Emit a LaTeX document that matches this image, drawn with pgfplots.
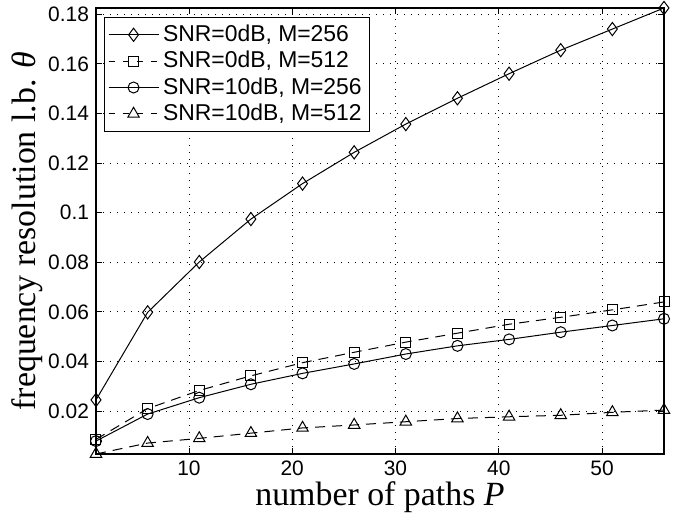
\documentclass[border=0pt]{standalone}
\usepackage{fontspec}
\setmainfont{Liberation Sans}
\newfontfamily\tnr{Liberation Serif}
\usepackage{pgfplots}
\pgfplotsset{compat=1.18}
\usetikzlibrary{calc}

\pgfplotsset{
  mlegend/.style={legend image code/.code={
    \draw[mark repeat=2,mark phase=2,#1] plot coordinates {(0bp,0bp) (12.5bp,0bp) (25bp,0bp)};}},
}

\begin{document}
\begin{tikzpicture}
\begin{axis}[
    name=ax,
    scale only axis,
    width=284bp, height=223bp,
    xmin=1, xmax=56,
    ymin=0.0027, ymax=0.1825,
    xtick={10,20,30,40,50},
    ytick={0.02,0.04,0.06,0.08,0.1,0.12,0.14,0.16,0.18},
    scaled y ticks=false,
    yticklabel style={/pgf/number format/.cd, fixed, precision=2},
    /pgf/number format/assume math mode=true,
    tick align=inside,
    major tick length=3bp,
    tick style={black, line width=0.4bp},
    ticklabel style={font=\fontsize{10.5}{12}\selectfont},
    axis line style={line width=0.8bp},
    grid=major,
    grid style={black, line width=0.4bp, dash pattern=on 0.5bp off 3bp},
    xlabel={\tnr\fontsize{17}{19}\selectfont number of paths \textit{P}},
    ylabel={\tnr\fontsize{17}{19}\selectfont frequency resolution l.b. \textit{θ}},
    xlabel style={yshift=4bp},
    ylabel style={yshift=-4bp},
    legend cell align=left,
    legend style={at={(0.014,0.98)}, anchor=north west,
      font=\fontsize{11.5}{12.5}\selectfont, draw=black, line width=0.5bp,
      inner sep=1.8bp, row sep=-0.6bp},
    every axis plot/.append style={black, line width=0.5bp},
    clip=false,
]

\addplot[mark=diamond, mark size=3.3bp, mlegend={solid}] coordinates {
 (1,0.0245) (6,0.0598) (11,0.0801) (16,0.0974) (21,0.1117) (26,0.1243)
 (31,0.1357) (36,0.1461) (41,0.1560) (46,0.1655) (51,0.1740) (56,0.1825)
};
\addlegendentry{SNR=0dB, M=256}

\addplot[mark=square, mark size=2.5bp, dash pattern=on 5bp off 3.5bp,
  mark options={solid}, mlegend={dash pattern=on 3bp off 4bp}] coordinates {
 (1,0.0086) (6,0.0210) (11,0.0283) (16,0.0342) (21,0.0395) (26,0.0437)
 (31,0.0478) (36,0.0514) (41,0.0550) (46,0.0578) (51,0.0608) (56,0.0640)
};
\addlegendentry{SNR=0dB, M=512}

\addplot[mark=o, mark size=2.75bp, mlegend={solid}] coordinates {
 (1,0.0079) (6,0.0188) (11,0.0254) (16,0.0308) (21,0.0352) (26,0.0390)
 (31,0.0430) (36,0.0463) (41,0.0489) (46,0.0518) (51,0.0545) (56,0.0572)
};
\addlegendentry{SNR=10dB, M=256}

\addplot[mark=triangle, mark size=3.3bp, dash pattern=on 5bp off 3.5bp,
  mark options={solid}, mlegend={dash pattern=on 3bp off 4bp}] coordinates {
 (1,0.0027) (6,0.0071) (11,0.0090) (16,0.0111) (21,0.0132) (26,0.0144)
 (31,0.0157) (36,0.0170) (41,0.0177) (46,0.0183) (51,0.0195) (56,0.0204)
};
\addlegendentry{SNR=10dB, M=512}

\end{axis}
\path ($(ax.south west)+(-48bp,-28.5bp)$) rectangle ($(ax.north east)+(8.5bp,4bp)$);
\end{tikzpicture}
\end{document}
